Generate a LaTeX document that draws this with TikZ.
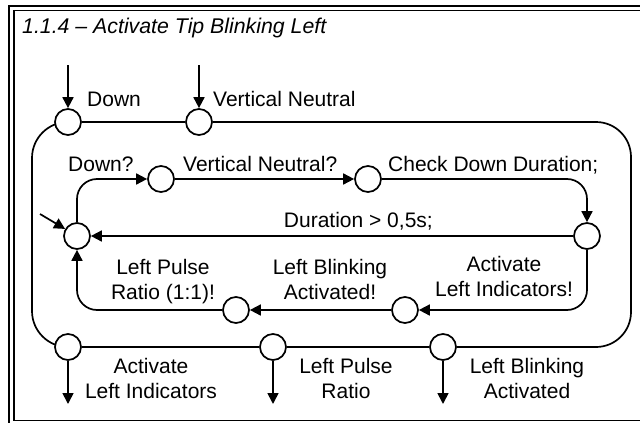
\documentclass[tikz,border=0pt]{standalone}
\usepackage{fontspec}
\setmainfont{Liberation Sans}
\usetikzlibrary{arrows.meta}
\pgfdeclarelayer{bg}
\pgfsetlayers{bg,main}
\begin{document}
\begin{tikzpicture}[x=1pt,y=-1pt,
  st/.style={circle,draw,fill=white,line width=1.7pt,minimum size=26pt,inner sep=0pt},
  ln/.style={line width=1.7pt},
  arr/.style={ln,-{Triangle[length=11pt,width=11pt]}},
  lbl/.style={font=\fontsize{21}{25}\selectfont,inner sep=0pt,align=center},
]
\useasboundingbox (0,0) rectangle (640,423);
\begin{scope}
\clip (0,0) rectangle (640,423);
\draw[line width=2pt] (9.3,5.8) rectangle (700,480);
\draw[line width=1.2pt] (14,10.3) rectangle (680,420.5);
\end{scope}

\node[font=\fontsize{21.3}{24}\selectfont\itshape, anchor=base west, inner sep=0pt] (title) at (22,34) {1.1.4 – Activate Tip Blinking Left};

% states
\node[st] (D) at (68,122) {};
\node[st] (VN) at (199,122) {};
\node[st] (AL) at (68,347) {};
\node[st] (LPR) at (273,347) {};
\node[st] (LBA) at (443,347) {};
\node[st] (J) at (77,236) {};
\node[st] (DQ) at (161,179) {};
\node[st] (VNQ) at (368,179) {};
\node[st] (CD) at (587,236) {};
\node[st] (ALI) at (405,310) {};
\node[st] (LBAQ) at (236,310) {};

% free ends
\coordinate (inD) at (68,65);
\coordinate (inVN) at (199,65);
\coordinate (outAL) at (68,404);
\coordinate (outLPR) at (273,404);
\coordinate (outLBA) at (443,404);
\coordinate (init) at (40,214);

% inputs / outputs
\draw[arr] (inD) -- (D);
\draw[arr] (inVN) -- (VN);
\draw[arr] (AL) -- (outAL);
\draw[arr] (LPR) -- (outLPR);
\draw[arr] (LBA) -- (outLBA);
\draw[arr] (init) -- (J);

% outer loop
\draw[ln] (D) -- (VN);
\draw[ln, rounded corners=35] (VN.east) -- (631,122) -- (631,347) -- (LBA.east);
\draw[ln] (LBA) -- (LPR);
\draw[ln] (LPR) -- (AL);
\begin{pgfonlayer}{bg}
\draw[ln, rounded corners=36] (AL.center) -- (32,347) -- (32,122) -- (D.center);
\end{pgfonlayer}

% inner loop
\draw[arr, rounded corners=20] (J.north) |- (DQ.west);
\draw[arr] (DQ) -- (VNQ);
\draw[arr, rounded corners=20] (VNQ.east) -| (CD.north);
\draw[arr] (CD) -- (J);
\draw[arr, rounded corners=20] (CD.south) |- (ALI.east);
\draw[arr] (ALI) -- (LBAQ);
\draw[arr, rounded corners=20] (LBAQ.west) -| (J.south);

% labels
\node[lbl, anchor=base west] (lD) at (87,106) {Down};
\node[lbl, anchor=base west] (lVN) at (213,106) {Vertical Neutral};
\node[lbl, anchor=base west] (lDQ) at (68,171) {Down?};
\node[lbl, anchor=base west] (lVNQ) at (183,171) {Vertical Neutral?};
\node[lbl, anchor=base west] (lCD) at (388,171) {Check Down Duration;};
\node[lbl, anchor=base east] (lDur) at (433,227) {Duration > 0,5s;};
\node[lbl, anchor=base] (lLPRQ) at (163,299) {Left Pulse\\Ratio (1:1)!};
\node[lbl, anchor=base] (lLBAQ) at (330,299) {Left Blinking\\Activated!};
\node[lbl, anchor=base] (lALI) at (504,296) {Activate\\Left Indicators!};
\node[lbl, anchor=base] (lAL) at (151,398) {Activate\\Left Indicators};
\node[lbl, anchor=base] (lLPR) at (346,398) {Left Pulse\\Ratio};
\node[lbl, anchor=base] (lLBA) at (527,398) {Left Blinking\\Activated};
\end{tikzpicture}
\end{document}
